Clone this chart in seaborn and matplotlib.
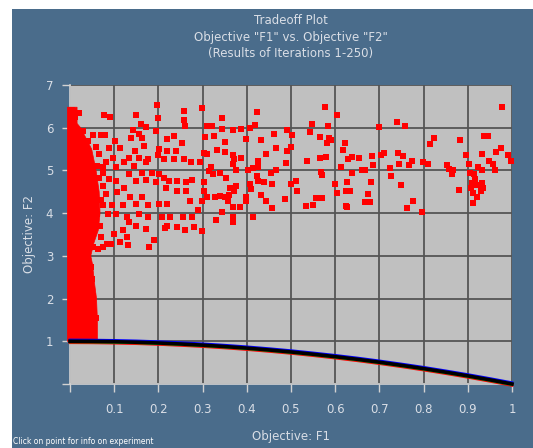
import matplotlib
matplotlib.use("Agg")
import matplotlib.pyplot as plt
import seaborn as sns
import pandas as pd
from matplotlib.transforms import ScaledTranslation
from matplotlib.patches import Rectangle, Polygon

# ---------------- data ----------------
title_lines = ["Tradeoff Plot", 'Objective "F1" vs. Objective "F2"', "(Results of Iterations 1-250)"]
x_label = "Objective: F1"
y_label = "Objective: F2"
footer = "Click on point for info on experiment"
x_ticks = [0, 0.1, 0.2, 0.3, 0.4, 0.5, 0.6, 0.7, 0.8, 0.9, 1.0]
x_ticklabels = ["", "0.1", "0.2", "0.3", "0.4", "0.5", "0.6", "0.7", "0.8", "0.9", "1"]
y_ticks = [0, 1, 2, 3, 4, 5, 6, 7]
y_ticklabels = ["", "1", "2", "3", "4", "5", "6", "7"]

# Pareto front (dense line of experiments)
front_f1 = [0.0, 0.05, 0.1, 0.15, 0.2, 0.25, 0.3, 0.35, 0.4, 0.45, 0.5,
            0.55, 0.6, 0.65, 0.7, 0.75, 0.8, 0.85, 0.9, 0.95, 1.0]
front_f2 = [1.0, 0.997, 0.99, 0.978, 0.96, 0.937, 0.91, 0.877, 0.84, 0.797, 0.75,
            0.697, 0.64, 0.578, 0.51, 0.437, 0.36, 0.277, 0.19, 0.097, 0.0]

# envelope of the solid cluster of experiments near F1 = 0
cluster_f2 = [1.0, 1.5, 2.0, 2.4, 2.8, 3.0, 3.3, 3.6, 4.0, 4.5, 5.0, 5.5, 5.8, 6.0, 6.1, 6.48]
cluster_f1 = [0.062, 0.062, 0.060, 0.055, 0.051, 0.047, 0.054, 0.064, 0.068, 0.066,
              0.059, 0.049, 0.034, 0.024, 0.016, 0.016]
cluster_left = -0.006

# scattered experiments
pts = [
    (0.196, 6.54), (0.077, 6.29), (0.090, 6.25), (0.149, 6.29), (0.198, 6.23), (0.258, 6.40),
    (0.299, 6.47), (0.257, 6.17), (0.261, 6.05), (0.311, 6.04), (0.161, 6.08), (0.173, 6.02),
    (0.143, 5.94), (0.194, 5.92), (0.155, 5.86), (0.051, 5.82), (0.070, 5.83), (0.080, 5.84),
    (0.102, 5.69), (0.139, 5.77), (0.164, 5.77), (0.220, 5.74), (0.236, 5.81), (0.253, 5.64),
    (0.305, 5.79), (0.059, 5.55), (0.089, 5.52), (0.114, 5.53), (0.147, 5.46), (0.168, 5.57),
    (0.202, 5.50), (0.220, 5.46), (0.239, 5.46), (0.304, 5.40), (0.295, 5.19), (0.273, 5.20),
    (0.258, 5.26), (0.236, 5.26), (0.213, 5.26), (0.200, 5.35), (0.177, 5.26), (0.173, 5.19),
    (0.156, 5.30), (0.134, 5.30), (0.123, 5.19), (0.098, 5.30), (0.081, 5.19), (0.066, 5.38),
    (0.074, 5.07), (0.104, 5.07), (0.145, 5.11), (0.164, 4.95), (0.186, 4.93), (0.202, 4.91),
    (0.213, 4.82), (0.224, 4.76), (0.243, 4.76), (0.262, 4.74), (0.277, 4.78), (0.303, 4.74),
    (0.303, 4.53), (0.262, 4.53), (0.243, 4.53), (0.217, 4.60), (0.194, 4.72), (0.173, 4.78),
    (0.150, 4.76), (0.134, 4.91), (0.123, 4.60), (0.104, 4.76), (0.089, 4.80), (0.074, 4.64),
    (0.065, 4.82), (0.081, 4.45), (0.107, 4.49), (0.135, 4.37), (0.164, 4.37), (0.177, 4.18),
    (0.202, 4.22), (0.220, 4.22), (0.271, 4.28), (0.290, 4.08), (0.149, 4.22), (0.121, 4.18),
    (0.096, 4.18), (0.074, 4.18), (0.062, 3.98), (0.085, 3.97), (0.104, 3.97), (0.130, 3.92),
    (0.156, 3.98), (0.177, 3.91), (0.208, 3.92), (0.226, 3.92), (0.256, 3.92), (0.277, 3.91),
    (0.220, 3.71), (0.215, 3.66), (0.243, 3.67), (0.260, 3.60), (0.280, 3.67), (0.299, 3.58),
    (0.171, 3.64), (0.150, 3.71), (0.134, 3.79), (0.119, 3.60), (0.100, 3.52), (0.128, 3.44),
    (0.114, 3.33), (0.070, 3.44), (0.190, 3.38), (0.179, 3.21), (0.131, 3.25), (0.092, 3.27),
    (0.074, 3.21), (0.051, 3.21),
    (0.345, 6.23), (0.424, 6.36), (0.576, 6.48), (0.605, 6.29), (0.322, 6.05), (0.345, 5.98),
    (0.369, 5.94), (0.386, 5.98), (0.407, 6.00), (0.418, 6.06), (0.548, 6.08), (0.584, 6.05),
    (0.491, 5.94), (0.503, 5.84), (0.461, 5.86), (0.542, 5.91), (0.566, 5.78), (0.585, 5.75),
    (0.590, 5.72), (0.582, 5.64), (0.623, 5.65), (0.325, 5.81), (0.350, 5.67), (0.399, 5.73),
    (0.433, 5.71), (0.465, 5.53), (0.500, 5.56), (0.491, 5.46), (0.444, 5.38), (0.618, 5.47),
    (0.309, 5.38), (0.333, 5.47), (0.351, 5.43), (0.369, 5.36), (0.370, 5.26), (0.388, 5.28),
    (0.369, 5.15), (0.426, 5.22), (0.425, 5.09), (0.489, 5.18), (0.536, 5.21), (0.566, 5.29),
    (0.579, 5.32), (0.614, 5.07), (0.630, 5.26), (0.320, 5.07), (0.324, 4.91), (0.315, 4.99),
    (0.339, 4.93), (0.354, 4.82), (0.375, 5.01), (0.403, 5.01), (0.414, 5.05), (0.455, 4.95),
    (0.465, 5.02), (0.422, 4.88), (0.425, 4.76), (0.440, 4.74), (0.457, 4.68), (0.408, 4.68),
    (0.410, 4.56), (0.500, 4.68), (0.512, 4.76), (0.514, 4.51), (0.570, 4.90), (0.569, 4.96),
    (0.599, 4.68), (0.603, 4.47), (0.626, 4.74), (0.624, 4.53), (0.298, 4.29), (0.309, 4.37),
    (0.328, 4.37), (0.339, 4.39), (0.350, 4.37), (0.360, 4.43), (0.370, 4.53), (0.375, 4.64),
    (0.363, 4.60), (0.358, 4.29), (0.369, 4.14), (0.384, 4.14), (0.399, 4.29), (0.399, 4.37),
    (0.433, 4.43), (0.444, 4.29), (0.457, 4.12), (0.487, 4.33), (0.533, 4.16), (0.549, 4.18),
    (0.557, 4.36), (0.570, 4.36), (0.624, 4.16), (0.345, 4.02), (0.331, 3.84), (0.369, 3.91),
    (0.369, 3.79), (0.413, 3.91),
    (0.977, 6.48), (0.739, 6.13), (0.759, 6.05), (0.698, 6.02), (0.823, 5.77), (0.815, 5.63),
    (0.883, 5.71), (0.936, 5.81), (0.945, 5.81), (0.638, 5.32), (0.653, 5.30), (0.683, 5.33),
    (0.686, 5.13), (0.703, 5.35), (0.711, 5.41), (0.743, 5.41), (0.753, 5.33), (0.744, 5.16),
    (0.767, 5.13), (0.774, 5.22), (0.798, 5.19), (0.809, 5.16), (0.852, 5.13), (0.857, 5.03),
    (0.867, 5.00), (0.864, 4.91), (0.897, 5.35), (0.903, 5.16), (0.933, 5.39), (0.964, 5.44),
    (0.976, 5.53), (0.991, 5.35), (0.998, 5.22), (0.947, 5.23), (0.956, 5.14), (0.962, 5.00),
    (0.924, 5.07), (0.933, 5.02), (0.906, 4.95), (0.914, 4.92), (0.917, 4.81), (0.909, 4.71),
    (0.921, 4.67), (0.932, 4.71), (0.935, 4.59), (0.929, 4.52), (0.908, 4.59), (0.912, 4.48),
    (0.921, 4.37), (0.911, 4.24), (0.880, 4.55), (0.661, 5.02), (0.668, 5.02), (0.723, 5.05),
    (0.727, 4.88), (0.639, 4.94), (0.627, 4.73), (0.633, 4.52), (0.680, 4.73), (0.674, 4.44),
    (0.678, 4.27), (0.668, 4.25), (0.748, 4.66), (0.777, 4.28), (0.762, 4.11), (0.797, 4.03),
    (0.627, 4.14),
    (0.055, 1.20), (0.058, 1.55), (0.053, 2.05), (0.050, 2.45), (0.047, 2.75), (0.040, 2.95),
    (0.035, 3.10), (0.045, 3.35), (0.064, 3.16), (0.083, 3.28), (0.053, 3.66), (0.020, 6.35),
    (0.005, 6.42), (0.012, 6.25), (0.030, 5.92), (0.040, 5.70), (0.060, 5.10), (0.070, 4.30),
    (0.068, 3.70), (0.075, 4.95),
]
scatter_f1 = [p[0] for p in pts]
scatter_f2 = [p[1] for p in pts]

# ---------------- style ----------------
PANEL = "#4a6c8b"
TXT = "#d9dee6"
AXC = "#d2d2d2"

plt.rcParams["font.family"] = ["DejaVu Sans"]
plt.rcParams["patch.force_edgecolor"] = False

W, H = 533, 448
fig = plt.figure(figsize=(W / 100, H / 100), dpi=100, facecolor="white")
fig.patches.append(Rectangle((12 / W, 0), 1 - 12 / W, (H - 9) / H, transform=fig.transFigure,
                             facecolor=PANEL, edgecolor="none", zorder=-10))

ax = fig.add_axes([70 / W, 64 / H, 442 / W, 299 / H])
ax.set_facecolor("#c0c0c0")
ax.set_axisbelow(True)

df = pd.DataFrame({"F1": scatter_f1, "F2": scatter_f2})
sns.scatterplot(data=df, x="F1", y="F2", marker="s", s=25, color="red", linewidth=0,
                ax=ax, zorder=3, clip_on=False, legend=False)

# solid cluster near F1 = 0 (polygon: axis side then right envelope), drawn above markers
poly = [(cluster_left, cluster_f2[0]), (cluster_left, cluster_f2[-1])]
poly += list(zip(cluster_f1[::-1], cluster_f2[::-1]))
ax.add_patch(Polygon(poly, closed=True, facecolor="#ff0000", edgecolor="#ff0000", linewidth=0.5,
                     zorder=3.5, clip_on=False))

fr = pd.DataFrame({"F1": front_f1, "F2": front_f2})
offsets = [("red", -1.4, 2.0), ("#00cc00", -0.8, 1.6), ("blue", 1.3, 2.0), ("black", 0.0, 2.6)]
for col, dy, lw in offsets:
    sns.lineplot(data=fr, x="F1", y="F2", color=col, linewidth=lw, ax=ax, zorder=4,
                 legend=False, clip_on=False, errorbar=None)
    ln = ax.lines[-1]
    ln.set_transform(ax.transData + ScaledTranslation(0, dy / 100, fig.dpi_scale_trans))

ax.set_xlim(0, 1)
ax.set_ylim(0, 7)
ax.set_xticks(x_ticks)
ax.set_xticklabels(x_ticklabels)
ax.set_yticks(y_ticks)
ax.set_yticklabels(y_ticklabels)
ax.set_xlabel("")
ax.set_ylabel("")
ax.grid(True, color="#555555", linewidth=1.3)
for s in ["top", "right"]:
    ax.spines[s].set_visible(False)
for s in ["left", "bottom"]:
    ax.spines[s].set_color(AXC)
    ax.spines[s].set_linewidth(1.2)
ax.tick_params(axis="both", direction="out", length=6, width=1, color=AXC,
               labelcolor=TXT, labelsize=8.5)
ax.tick_params(axis="x", pad=8)
ax.tick_params(axis="y", pad=6)

for i, t in enumerate(title_lines):
    fig.text(291 / W, 1 - (21 + 16 * i) / H, t, ha="center", va="center", color=TXT, fontsize=8.5)
fig.text(291 / W, 1 - 436 / H, x_label, ha="center", va="center", color=TXT, fontsize=8.5)
fig.text(30 / W, 1 - 234 / H, y_label, ha="center", va="center", rotation=90, color=TXT, fontsize=8.5)
fig.text(13 / W, 2 / H, footer, ha="left", va="bottom", color="white", fontsize=5.5)

fig.savefig("out.png", dpi=100, facecolor="white")
